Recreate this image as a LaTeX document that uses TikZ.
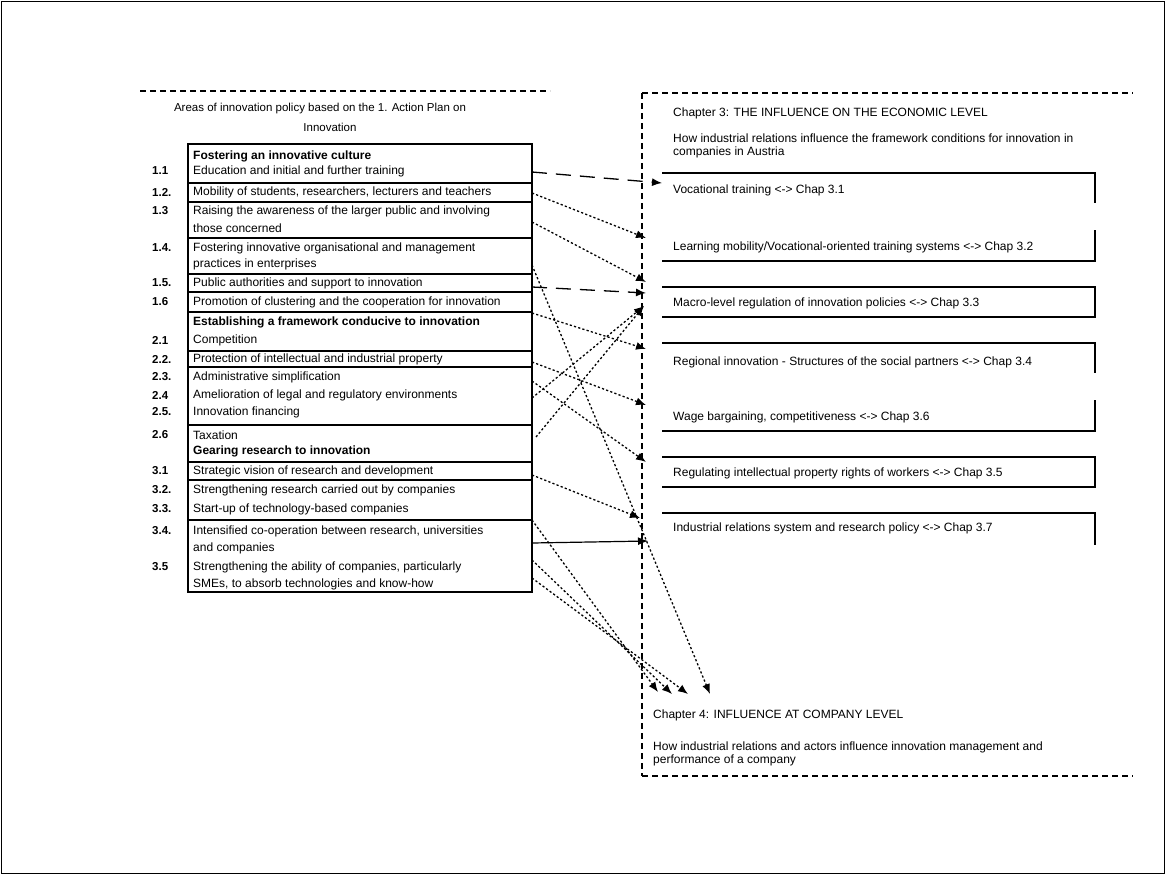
\documentclass[tikz,border=0pt]{standalone}
\usepackage{fontspec}
\setmainfont{Liberation Sans}
\usetikzlibrary{arrows.meta}
\begin{document}
\begin{tikzpicture}[x=1pt,y=-1pt,
  txt/.style={anchor=west,inner sep=0pt,font=\fontsize{12}{14}\selectfont},
  num/.style={anchor=west,inner sep=0pt,font=\fontsize{11.5}{14}\selectfont\bfseries},
  rule/.style={line width=1.2pt},
  sect/.style={line width=1.1pt,dash pattern=on 6pt off 4pt},
  tip/.style={-{Latex[length=10pt,width=8pt]}},
  dotl/.style={tip,line width=1.3pt,dash pattern=on 2.2pt off 2.2pt},
  longd/.style={tip,line width=1.3pt,dash pattern=on 15pt off 9pt},
  solid arrow/.style={tip,line width=1.2pt}]
\useasboundingbox (0,0) rectangle (1166,875);
\draw[line width=1.5pt] (1.5,1.5) rectangle (1164.5,873.5);

% left section
\draw[sect] (140,91) -- (550,91);
\node[txt,anchor=center,font=\fontsize{11.5}{13}\selectfont] (title1) at (320,109) {Areas of innovation policy based on the 1. Action Plan on};
\node[txt,anchor=center,font=\fontsize{11.5}{13}\selectfont] (title2) at (330,127) {Innovation};

\draw[rule] (188,144) rectangle (532,592);
\foreach \y in {183,202,238,274,292,312,351,367,425,462,480,520}
  \draw[rule] (188,\y) -- (532,\y);

\node[txt,font=\fontsize{12}{14}\selectfont\bfseries] (h1) at (193,156) {Fostering an innovative culture};
\node[num] (n11) at (152,171) {1.1}; \node[txt] (r11) at (193,171) {Education and initial and further training};
\node[num] (n12) at (152,192) {1.2.}; \node[txt] (r12) at (193,192) {Mobility of students, researchers, lecturers and teachers};
\node[num] (n13) at (152,211) {1.3}; \node[txt] (r13) at (193,211) {Raising the awareness of the larger public and involving};
\node[txt] (r13b) at (193,228) {those concerned};
\node[num] (n14) at (152,248) {1.4.}; \node[txt] (r14) at (193,248) {Fostering innovative organisational and management};
\node[txt] (r14b) at (193,264) {practices in enterprises};
\node[num] (n15) at (152,283) {1.5.}; \node[txt] (r15) at (193,283) {Public authorities and support to innovation};
\node[num] (n16) at (152,302) {1.6}; \node[txt] (r16) at (193,302) {Promotion of clustering and the cooperation for innovation};
\node[txt,font=\fontsize{12}{14}\selectfont\bfseries] (h2) at (193,322) {Establishing a framework conducive to innovation};
\node[num] (n21) at (152,340) {2.1}; \node[txt] (r21) at (193,340) {Competition};
\node[num] (n22) at (152,359) {2.2.}; \node[txt] (r22) at (193,359) {Protection of intellectual and industrial property};
\node[num] (n23) at (152,377) {2.3.}; \node[txt] (r23) at (193,377) {Administrative simplification};
\node[num] (n24) at (152,395) {2.4}; \node[txt] (r24) at (193,395) {Amelioration of legal and regulatory environments};
\node[num] (n25) at (152,412) {2.5.}; \node[txt] (r25) at (193,412) {Innovation financing};
\node[num] (n26) at (152,435) {2.6}; \node[txt] (r26) at (193,435) {Taxation};
\node[txt,font=\fontsize{12}{14}\selectfont\bfseries] (h3) at (193,451) {Gearing research to innovation};
\node[num] (n31) at (152,471) {3.1}; \node[txt] (r31) at (193,471) {Strategic vision of research and development};
\node[num] (n32) at (152,490) {3.2.}; \node[txt] (r32) at (193,490) {Strengthening research carried out by companies};
\node[num] (n33) at (152,509) {3.3.}; \node[txt] (r33) at (193,509) {Start-up of technology-based companies};
\node[num] (n34) at (152,531) {3.4.}; \node[txt] (r34) at (193,531) {Intensified co-operation between research, universities};
\node[txt] (r34b) at (193,548) {and companies};
\node[num] (n35) at (152,567) {3.5}; \node[txt] (r35) at (193,567) {Strengthening the ability of companies, particularly};
\node[txt] (r35b) at (193,584) {SMEs, to absorb technologies and know-how};

% right section
\draw[sect] (642,93) -- (1133,93);
\draw[sect] (642,93) -- (642,776);
\draw[sect] (642,776) -- (1133,776);
\node[txt] (ch3) at (673,113) {Chapter 3: THE INFLUENCE ON THE ECONOMIC LEVEL};
\node[txt] (ch3a) at (673,138) {How industrial relations influence the framework conditions for innovation in};
\node[txt] (ch3b) at (673,152) {companies in Austria};

\draw[rule] (662,173) -- (1095,173) -- (1095,203);
\draw[rule] (1095,230) -- (1095,261) -- (662,261);
\draw[rule] (662,287) -- (1095,287) -- (1095,317) -- (662,317);
\draw[rule] (662,343) -- (1095,343) -- (1095,373);
\draw[rule] (1095,400) -- (1095,431) -- (662,431);
\draw[rule] (662,457) -- (1095,457) -- (1095,487) -- (662,487);
\draw[rule] (662,513) -- (1095,513) -- (1095,545);

\node[txt] (b1) at (673,190) {Vocational training <-> Chap 3.1};
\node[txt] (b2) at (673,247) {Learning mobility/Vocational-oriented training systems <-> Chap 3.2};
\node[txt] (b3) at (673,303) {Macro-level regulation of innovation policies <-> Chap 3.3};
\node[txt] (b4) at (673,362) {Regional innovation - Structures of the social partners <-> Chap 3.4};
\node[txt] (b5) at (673,417) {Wage bargaining, competitiveness <-> Chap 3.6};
\node[txt] (b6) at (673,473) {Regulating intellectual property rights of workers <-> Chap 3.5};
\node[txt] (b7) at (673,528) {Industrial relations system and research policy <-> Chap 3.7};

\node[txt] (ch4) at (653,715) {Chapter 4: INFLUENCE AT COMPANY LEVEL};
\node[txt] (ch4a) at (653,747) {How industrial relations and actors influence innovation management and};
\node[txt] (ch4b) at (653,760) {performance of a company};

% connector end points
\coordinate (s11) at (532,172);
\coordinate (s12) at (532,193);
\coordinate (s13) at (532,222);
\coordinate (s14) at (532,265);
\coordinate (s15) at (532,287);
\coordinate (s16) at (532,313);
\coordinate (s22) at (532,362);
\coordinate (s23) at (532,381);
\coordinate (s24) at (532,398);
\coordinate (s26) at (536,437);
\coordinate (s31) at (532,475);
\coordinate (s33) at (532,520);
\coordinate (s34) at (532,543);
\coordinate (s35a) at (532,560);
\coordinate (s35b) at (532,578);
\coordinate (t1) at (662,183);
\coordinate (t2) at (646,238);
\coordinate (t3a) at (646,282);
\coordinate (t3b) at (646,293);
\coordinate (t3c) at (644,306);
\coordinate (t4) at (646,349);
\coordinate (t5) at (646,405);
\coordinate (t6) at (646,462);
\coordinate (t7a) at (640,518);
\coordinate (t7b) at (648,541);
\coordinate (c4a) at (658,692);
\coordinate (c4b) at (672,694);
\coordinate (c4c) at (688,694);
\coordinate (c4d) at (710,694);

\draw[longd] (s11) -- (t1);
\draw[dotl] (s12) -- (t2);
\draw[dotl] (s13) -- (t3a);
\draw[longd] (s15) -- (t3b);
\draw[dotl] (s16) -- (t4);
\draw[dotl] (s22) -- (t5);
\draw[dotl] (s23) -- (t6);
\draw[dotl] (s24) -- (t3c);
\draw[dotl] (s26) -- (t3c);
\draw[dotl] (s14) -- (c4d);
\draw[dotl] (s31) -- (t7a);
\draw[solid arrow] (s34) -- (t7b);
\draw[dotl] (s33) -- (c4a);
\draw[dotl] (s35a) -- (c4b);
\draw[dotl] (s35b) -- (c4c);
\end{tikzpicture}
\end{document}
